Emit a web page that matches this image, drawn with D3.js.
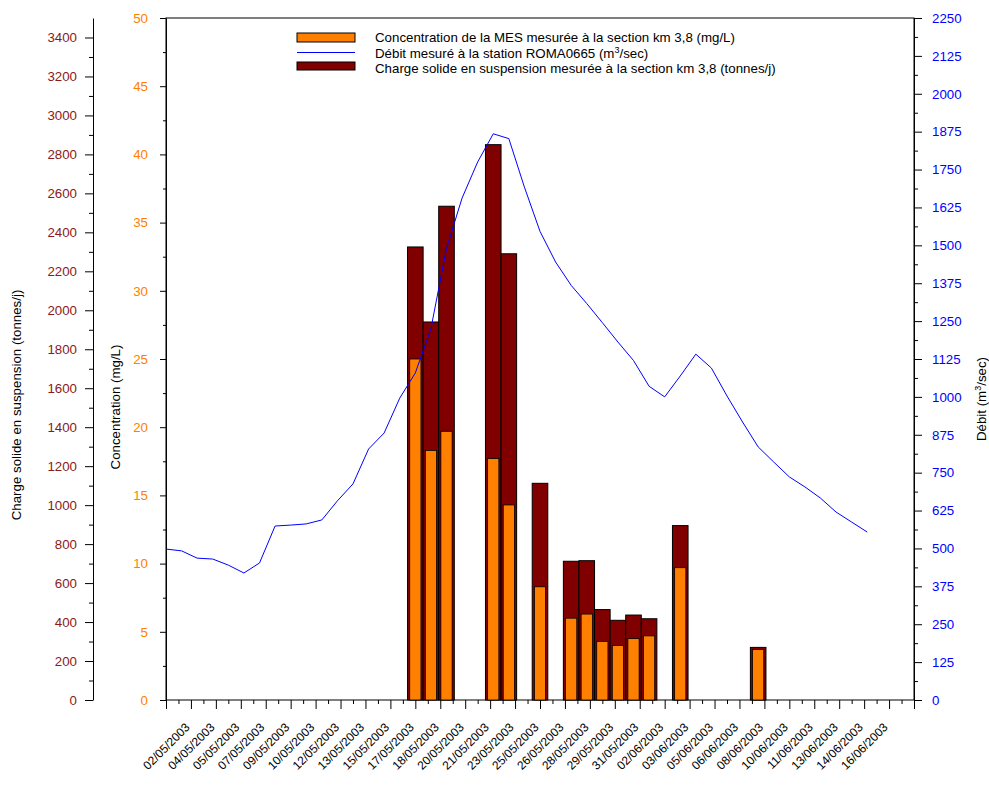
<!DOCTYPE html>
<html>
<head>
<meta charset="utf-8">
<script src="https://cdn.jsdelivr.net/npm/d3@7"></script>
<style>
body { margin: 0; background: #fff; }
text { font-family: "Liberation Sans", Arial, sans-serif; }
</style>
</head>
<body>
<div id="chart"></div>
<script>
// Débit journalier (m3/s), station ROMA0665
const flowDates = [
  "2003-05-01","2003-05-02","2003-05-03","2003-05-04","2003-05-05","2003-05-06","2003-05-07",
  "2003-05-08","2003-05-09","2003-05-10","2003-05-11","2003-05-12","2003-05-13","2003-05-14",
  "2003-05-15","2003-05-16","2003-05-17","2003-05-18","2003-05-19","2003-05-20","2003-05-21",
  "2003-05-22","2003-05-23","2003-05-24","2003-05-25","2003-05-26","2003-05-27","2003-05-28",
  "2003-05-29","2003-05-30","2003-05-31","2003-06-01","2003-06-02","2003-06-03","2003-06-04",
  "2003-06-05","2003-06-06","2003-06-07","2003-06-08","2003-06-09","2003-06-10","2003-06-11",
  "2003-06-12","2003-06-13","2003-06-14","2003-06-15"
];
const flowValues = [
  498, 492, 468, 465, 445, 419, 452,
  574, 577, 581, 594, 657, 713, 828,
  881, 996, 1079, 1225, 1490, 1656, 1775,
  1868, 1852, 1692, 1546, 1445, 1368, 1308,
  1245, 1181, 1120, 1035, 1000, 1069, 1141,
  1095, 1003, 917, 835, 785, 736, 703,
  666, 620, 587, 554
];

// mesures à la section km 3,8
const barDates = [
  "2003-05-17","2003-05-18","2003-05-19","2003-05-22","2003-05-23","2003-05-25","2003-05-27",
  "2003-05-28","2003-05-29","2003-05-30","2003-05-31","2003-06-01","2003-06-03","2003-06-08"
];
const concValues = [25.0, 18.3, 19.7, 17.7, 14.3, 8.3, 6.0, 6.3, 4.3, 4.0, 4.5, 4.7, 9.7, 3.7];
const chargeValues = [2325, 1940, 2534, 2850, 2290, 1112, 712, 715, 464, 409, 436, 417, 895, 270];

const xTickLabels = [
  "02/05/2003","04/05/2003","05/05/2003","07/05/2003","09/05/2003","10/05/2003","12/05/2003",
  "13/05/2003","15/05/2003","17/05/2003","18/05/2003","20/05/2003","21/05/2003","23/05/2003",
  "25/05/2003","26/05/2003","28/05/2003","29/05/2003","31/05/2003","02/06/2003","03/06/2003",
  "05/06/2003","06/06/2003","08/06/2003","10/06/2003","11/06/2003","13/06/2003","14/06/2003",
  "16/06/2003"
];

const legendLabels = [
  "Concentration de la MES mesurée à la section km 3,8 (mg/L)",
  "Débit mesuré à la station ROMA0665 (m",
  "Charge solide en suspension mesurée à la section km 3,8 (tonnes/j)"
];

const width = 989, height = 785;
const plot = { left: 166, right: 914, top: 18, bottom: 700 };
const orange = "#ff8000", maroon = "#800000", blue = "#0000ff";
const fontSize = "13.3px";
const dayMs = 864e5;
const parse = d3.utcParse("%Y-%m-%d");

const svg = d3.select("#chart").append("svg")
  .attr("width", width)
  .attr("height", height);

svg.append("rect").attr("width", width).attr("height", height).attr("fill", "#fff");

const x = d3.scaleUtc()
  .domain([Date.UTC(2003, 4, 1), Date.UTC(2003, 5, 18)])
  .range([plot.left, plot.right]);

const yConc = d3.scaleLinear().domain([0, 50]).range([plot.bottom, plot.top]);
const yCharge = d3.scaleLinear().domain([0, 3500]).range([plot.bottom, plot.top]);
const yFlow = d3.scaleLinear().domain([0, 2250]).range([plot.bottom, plot.top]);

// frame
svg.append("rect")
  .attr("x", plot.left).attr("y", plot.top)
  .attr("width", plot.right - plot.left)
  .attr("height", plot.bottom - plot.top)
  .attr("fill", "none").attr("stroke", "#000");

const bars = barDates.map((d, i) => ({ date: parse(d), conc: concValues[i], charge: chargeValues[i] }));
const dayW = x(new Date(Date.UTC(2003, 4, 2))) - x(new Date(Date.UTC(2003, 4, 1)));

svg.append("g").selectAll("rect")
  .data(bars)
  .enter().append("rect")
  .attr("x", d => x(d.date) - dayW / 2)
  .attr("y", d => yCharge(d.charge))
  .attr("width", dayW)
  .attr("height", d => plot.bottom - yCharge(d.charge))
  .attr("fill", maroon)
  .attr("stroke", "#000");

const innerW = dayW * 0.72;
svg.append("g").selectAll("rect")
  .data(bars)
  .enter().append("rect")
  .attr("x", d => x(d.date) - innerW / 2)
  .attr("y", d => yConc(d.conc))
  .attr("width", innerW)
  .attr("height", d => plot.bottom - yConc(d.conc))
  .attr("fill", orange)
  .attr("stroke", "#000")
  .attr("stroke-width", 0.8);

const flow = flowDates.map((d, i) => ({ date: parse(d), q: flowValues[i] }));
svg.append("path")
  .datum(flow)
  .attr("fill", "none")
  .attr("stroke", blue)
  .attr("stroke-width", 1)
  .attr("d", d3.line().x(d => x(d.date)).y(d => yFlow(d.q)));

// axes
function styleAxis(g, color, size) {
  g.selectAll("path, line").attr("stroke", "#000");
  g.selectAll("text")
    .attr("fill", color)
    .style("font-size", size || fontSize)
    .style("font-family", "'Liberation Sans', Arial, sans-serif");
}
const fmt = d3.format("d");

svg.append("g")
  .attr("transform", `translate(${plot.left},0)`)
  .call(d3.axisLeft(yConc).tickValues(d3.range(0, 51, 5)).tickFormat(fmt).tickSize(6).tickSizeOuter(0).tickPadding(12))
  .call(g => styleAxis(g, orange));
svg.append("g")
  .attr("transform", `translate(${plot.left},0)`)
  .call(d3.axisLeft(yConc).tickValues(d3.range(2.5, 50, 5)).tickSize(3).tickSizeOuter(0).tickFormat(""))
  .call(g => g.select(".domain").remove())
  .call(g => styleAxis(g, orange));

svg.append("g")
  .attr("transform", "translate(93,0)")
  .call(d3.axisLeft(yCharge).tickValues(d3.range(0, 3401, 200)).tickFormat(fmt).tickSize(8).tickSizeOuter(0).tickPadding(8))
  .call(g => styleAxis(g, "#8b1a1a"));
svg.append("g")
  .attr("transform", "translate(93,0)")
  .call(d3.axisLeft(yCharge).tickValues(d3.range(100, 3500, 200)).tickSize(4).tickFormat(""))
  .call(g => g.select(".domain").remove())
  .call(g => styleAxis(g, maroon));

svg.append("g")
  .attr("transform", `translate(${plot.right},0)`)
  .call(d3.axisRight(yFlow).tickValues(d3.range(0, 2251, 125)).tickFormat(fmt).tickSize(8).tickSizeOuter(0).tickPadding(10))
  .call(g => styleAxis(g, blue));
svg.append("g")
  .attr("transform", `translate(${plot.right},0)`)
  .call(d3.axisRight(yFlow).tickValues(d3.range(62.5, 2250, 125)).tickSize(4).tickFormat(""))
  .call(g => g.select(".domain").remove())
  .call(g => styleAxis(g, blue));

// x axis: ticks every 1.6 days from 01/05
const tickStep = 1.6 * dayMs;
const t0 = Date.UTC(2003, 4, 1);
const majorTicks = d3.range(0, 31).map(k => new Date(t0 + k * tickStep));
const minorTicks = d3.range(0, 30).map(k => new Date(t0 + (k + 0.5) * tickStep));

svg.append("g")
  .attr("transform", `translate(0,${plot.bottom})`)
  .call(d3.axisBottom(x).tickValues(majorTicks).tickSize(9).tickSizeOuter(0)
    .tickFormat((d, i) => (i >= 1 && i <= xTickLabels.length) ? xTickLabels[i - 1] : ""))
  .call(g => g.select(".domain").remove())
  .call(g => styleAxis(g, "#000", "12px"))
  .call(g => g.selectAll("text")
    .attr("text-anchor", "end")
    .attr("dy", null)
    .attr("y", 0)
    .attr("transform", "translate(-1,28) rotate(-45)"));
svg.append("g")
  .attr("transform", `translate(0,${plot.bottom})`)
  .call(d3.axisBottom(x).tickValues(minorTicks).tickSize(4).tickFormat(""))
  .call(g => g.select(".domain").remove())
  .call(g => styleAxis(g, "#000"));

// axis titles
svg.append("text")
  .attr("transform", "translate(21,405) rotate(-90)")
  .attr("text-anchor", "middle")
  .style("font-size", fontSize)
  .text("Charge solide en suspension (tonnes/j)");

svg.append("text")
  .attr("transform", "translate(120,407) rotate(-90)")
  .attr("text-anchor", "middle")
  .style("font-size", fontSize)
  .text("Concentration (mg/L)");

const flowTitle = svg.append("text")
  .attr("transform", "translate(986,399) rotate(-90)")
  .attr("text-anchor", "middle")
  .style("font-size", fontSize);
flowTitle.append("tspan").text("Débit (m");
flowTitle.append("tspan").attr("baseline-shift", "super").style("font-size", "9px").text("3");
flowTitle.append("tspan").text("/sec)");

// legend
const legend = svg.append("g").attr("transform", "translate(297,33)");
legend.append("rect").attr("x", 0).attr("y", 0).attr("width", 58).attr("height", 9)
  .attr("fill", orange).attr("stroke", "#000");
legend.append("line").attr("x1", 0).attr("x2", 58).attr("y1", 19.5).attr("y2", 19.5)
  .attr("stroke", blue).attr("stroke-width", 1);
legend.append("rect").attr("x", 0).attr("y", 29).attr("width", 58).attr("height", 8)
  .attr("fill", maroon).attr("stroke", "#000");

legend.append("text").attr("x", 78).attr("y", 9).style("font-size", fontSize).text(legendLabels[0]);
const lt = legend.append("text").attr("x", 78).attr("y", 24.5).style("font-size", fontSize);
lt.append("tspan").text(legendLabels[1]);
lt.append("tspan").attr("baseline-shift", "super").style("font-size", "9px").text("3");
lt.append("tspan").text("/sec)");
legend.append("text").attr("x", 78).attr("y", 40).style("font-size", fontSize).text(legendLabels[2]);
</script>
</body>
</html>
